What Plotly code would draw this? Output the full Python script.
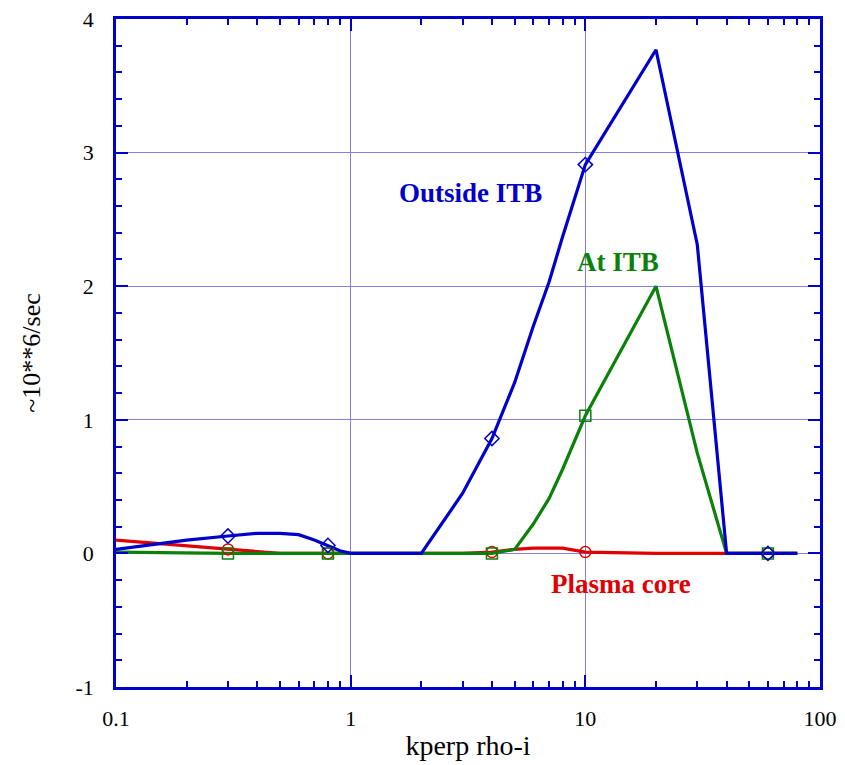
import plotly.graph_objects as go

# Data
x_outside = [0.1, 0.2, 0.3, 0.4, 0.5, 0.6, 0.7, 0.8, 0.9, 1, 2, 3, 4, 5, 6, 7, 8, 10, 20, 30, 40, 60, 80]
y_outside = [0.03, 0.10, 0.13, 0.15, 0.15, 0.14, 0.10, 0.06, 0.02, 0.0, 0.0, 0.45, 0.86, 1.28, 1.70, 2.03, 2.37, 2.91, 3.77, 2.31, 0.0, 0.0, 0.0]

x_atitb = [0.1, 0.3, 0.8, 1, 2, 3, 4, 5, 6, 7, 8, 10, 20, 30, 40, 60, 80]
y_atitb = [0.01, 0.0, 0.0, 0.0, 0.0, 0.0, 0.0, 0.03, 0.22, 0.41, 0.63, 1.03, 2.0, 0.75, 0.0, 0.0, 0.0]

x_core = [0.1, 0.3, 0.5, 0.8, 1, 2, 3, 4, 5, 6, 7, 8, 10, 20, 40, 60, 80]
y_core = [0.10, 0.03, 0.0, 0.0, 0.0, 0.0, 0.0, 0.01, 0.03, 0.04, 0.04, 0.04, 0.01, 0.0, 0.0, 0.0, 0.0]

marker_x = [0.3, 0.8, 4, 10, 60]

x_ticks = [0.1, 1, 10, 100]
x_ticklabels = ["0.1", "1", "10", "100"]
y_ticks = [-1, 0, 1, 2, 3, 4]
y_ticklabels = ["-1", "0", "1", "2", "3", "4"]

BLUE = "#0000cc"
GREEN = "#0a820a"
RED = "#e00000"
GRID = "#8282e6"
FONT = "Liberation Serif"


def pick(xs, ys, sel):
    d = dict(zip(xs, ys))
    return [x for x in sel if x in d], [d[x] for x in sel if x in d]


fig = go.Figure()
series = [
    (x_core, y_core, RED, "circle-open", "Plasma core"),
    (x_atitb, y_atitb, GREEN, "square-open", "At ITB"),
    (x_outside, y_outside, BLUE, "diamond-open", "Outside ITB"),
]
for xs, ys, c, sym, name in series:
    fig.add_trace(go.Scatter(x=xs, y=ys, mode="lines", line=dict(color=c, width=3.2),
                             name=name, showlegend=False))
for xs, ys, c, sym, name in series:
    mx, my = pick(xs, ys, marker_x)
    fig.add_trace(go.Scatter(x=mx, y=my, mode="markers",
                             marker=dict(symbol=sym, size=11, color=c, line=dict(color=c, width=1.5)),
                             showlegend=False))

fig.add_annotation(x=(469 - 116) / 234 - 1, y=(555 - 194) / 134, xref="x", yref="y",
                   text="<b>Outside ITB</b>", showarrow=False,
                   font=dict(family=FONT, size=27, color=BLUE))
fig.add_annotation(x=(617 - 116) / 234 - 1, y=(555 - 263) / 134, xref="x", yref="y",
                   text="<b>At ITB</b>", showarrow=False,
                   font=dict(family=FONT, size=27, color=GREEN))
fig.add_annotation(x=(620 - 116) / 234 - 1, y=(555 - 586) / 134, xref="x", yref="y",
                   text="<b>Plasma core</b>", showarrow=False,
                   font=dict(family=FONT, size=27, color=RED))

fig.update_layout(
    width=845, height=765,
    margin=dict(l=116, r=25, t=19, b=78),
    paper_bgcolor="white", plot_bgcolor="white",
    font=dict(family=FONT, size=22, color="black"),
)
fig.update_xaxes(
    type="log", range=[-1, 2], automargin=False,
    tickvals=x_ticks, ticktext=x_ticklabels,
    ticks="inside", ticklen=12, tickwidth=2, tickcolor=BLUE,
    showline=True, linecolor=BLUE, linewidth=2.5, mirror="allticks",
    showgrid=True, gridcolor=GRID, gridwidth=1.3,
    zeroline=False,
    minor=dict(ticks="inside", ticklen=6, tickwidth=2, tickcolor=BLUE, showgrid=False,
               tickvals=[a * b for b in [0.1, 1, 10] for a in range(2, 10)]),
    title=dict(text="kperp rho-i", font=dict(family=FONT, size=28), standoff=6),
    tickfont=dict(family=FONT, size=22),
    ticklabelstandoff=10,
)
fig.update_yaxes(
    range=[-1, 4], automargin=False,
    tickvals=y_ticks, ticktext=y_ticklabels,
    ticks="inside", ticklen=12, tickwidth=2, tickcolor=BLUE,
    showline=True, linecolor=BLUE, linewidth=2.5, mirror="allticks",
    showgrid=True, gridcolor=GRID, gridwidth=1.3,
    zeroline=False,
    minor=dict(ticks="inside", ticklen=6, tickwidth=2, tickcolor=BLUE, showgrid=False, dtick=0.2),
    title=dict(text="~10**6/sec", font=dict(family=FONT, size=26), standoff=28),
    tickfont=dict(family=FONT, size=22),
    ticklabelstandoff=15,
)

fig.write_html("out.html")
